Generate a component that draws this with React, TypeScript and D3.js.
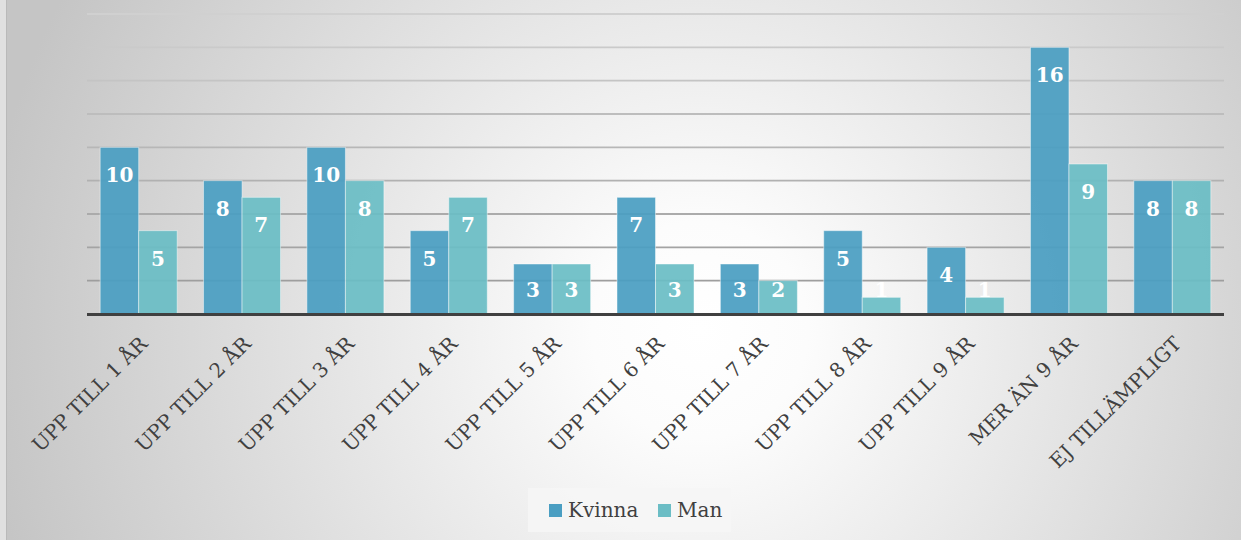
import React from "react";
import * as d3 from "d3";

const categories = [
  "UPP TILL 1 ÅR",
  "UPP TILL 2 ÅR",
  "UPP TILL 3 ÅR",
  "UPP TILL 4 ÅR",
  "UPP TILL 5 ÅR",
  "UPP TILL 6 ÅR",
  "UPP TILL 7 ÅR",
  "UPP TILL 8 ÅR",
  "UPP TILL 9 ÅR",
  "MER ÄN 9 ÅR",
  "EJ TILLÄMPLIGT",
];
const seriesNames = ["Kvinna", "Man"];
const kvinnaValues = [10, 8, 10, 5, 3, 7, 3, 5, 4, 16, 8];
const manValues = [5, 7, 8, 7, 3, 3, 2, 1, 1, 9, 8];
const yTicks = [0, 2, 4, 6, 8, 10, 12, 14, 16, 18];
const seriesColors = ["#4a9ec2", "#6bbdc5"];

const W = 1241;
const H = 540;
const plot = { left: 87, right: 1224, top: 14, bottom: 314 };
const serif = "'DejaVu Serif', 'Liberation Serif', serif";

export default function App() {
  const series = [kvinnaValues, manValues];
  const x0 = d3
    .scaleBand<string>()
    .domain(categories)
    .range([plot.left, plot.right])
    .paddingInner(0.255)
    .paddingOuter(0.1275);
  const x1 = d3
    .scaleBand<string>()
    .domain(seriesNames)
    .range([0, x0.bandwidth()])
    .padding(0);
  const y = d3
    .scaleLinear()
    .domain([0, 18])
    .range([plot.bottom, plot.top]);
  const gridColor = d3
    .scaleLinear<string>()
    .domain([18, 0])
    .range(["#d0d0d0", "#989898"]);

  const legendItems = [
    { name: seriesNames[0], sx: 549, tx: 568, color: seriesColors[0] },
    { name: seriesNames[1], sx: 658, tx: 677, color: seriesColors[1] },
  ];

  return (
    <svg
      width={W}
      height={H}
      style={{ position: "absolute", left: 0, top: 0, display: "block" }}
    >
      <defs>
        <radialGradient
          id="bg"
          gradientUnits="userSpaceOnUse"
          cx={700}
          cy={330}
          r={720}
        >
          <stop offset="0" stopColor="#ffffff" />
          <stop offset="0.15" stopColor="#fcfcfc" />
          <stop offset="1" stopColor="#c5c5c5" />
        </radialGradient>
      </defs>
      <rect x={0} y={0} width={W} height={H} fill="url(#bg)" />
      <rect x={0} y={0} width={6} height={H} fill="#e0e0e0" />
      <line x1={6.5} x2={6.5} y1={0} y2={H} stroke="#b9b9b9" strokeWidth={1} />

      {/* gridlines */}
      {yTicks
        .filter((t) => t > 0)
        .map((t) => (
          <line
            key={t}
            x1={plot.left}
            x2={plot.right}
            y1={y(t)}
            y2={y(t)}
            stroke={gridColor(t)}
            strokeWidth={1.8}
          />
        ))}

      {/* bars */}
      {categories.map((c, i) => (
        <g key={c} transform={`translate(${x0(c)},0)`}>
          {series.map((vals, si) => {
            const v = vals[i];
            const bx = x1(seriesNames[si]) as number;
            const top = y(v);
            return (
              <rect
                key={si}
                x={bx}
                y={top}
                width={x1.bandwidth()}
                height={y(0) - top}
                fill={seriesColors[si]}
                fillOpacity={0.93}
                stroke="#ffffff"
                strokeOpacity={0.45}
                strokeWidth={1}
              />
            );
          })}
        </g>
      ))}

      {/* baseline */}
      <line
        x1={plot.left}
        x2={plot.right}
        y1={y(0) + 0.5}
        y2={y(0) + 0.5}
        stroke="#404040"
        strokeWidth={3}
      />

      {/* data labels */}
      {categories.map((c, i) => (
        <g key={"l" + c} transform={`translate(${x0(c)},0)`}>
          {series.map((vals, si) => {
            const v = vals[i];
            const cx = (x1(seriesNames[si]) as number) + x1.bandwidth() / 2;
            const by = Math.min(y(v) + 35, y(0) - 17);
            return (
              <text
                key={si}
                x={cx}
                y={by}
                textAnchor="middle"
                fill="#ffffff"
                fontFamily={serif}
                fontWeight="bold"
                fontSize={20}
              >
                {v}
              </text>
            );
          })}
        </g>
      ))}

      {/* category labels */}
      {categories.map((c) => {
        const cx = (x0(c) as number) + x0.bandwidth() / 2;
        return (
          <text
            key={"c" + c}
            transform={`translate(${cx + 10},${plot.bottom + 31}) rotate(-45)`}
            textAnchor="end"
            fill="#404040"
            fontFamily={serif}
            fontSize={20}
          >
            {c}
          </text>
        );
      })}

      {/* legend */}
      <rect x={528} y={488} width={203} height={44} fill="#f6f6f6" fillOpacity={0.85} />
      {legendItems.map((it) => (
        <g key={it.name}>
          <rect x={it.sx} y={504} width={13} height={13} fill={it.color} />
          <text
            x={it.tx}
            y={517}
            fill="#404040"
            fontFamily={serif}
            fontSize={20}
          >
            {it.name}
          </text>
        </g>
      ))}
    </svg>
  );
}
